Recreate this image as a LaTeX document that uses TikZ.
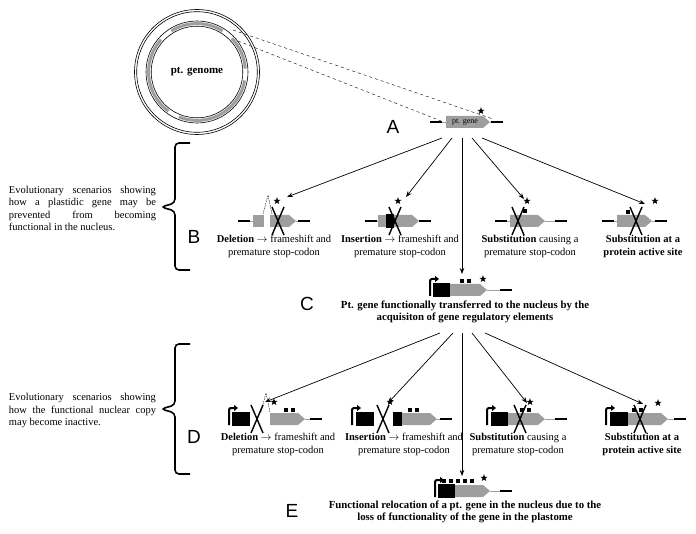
\documentclass[tikz,border=0pt]{standalone}
\usepackage{fontspec}
\setmainfont{Liberation Serif}
\newfontfamily\letterfont{Liberation Sans}
\usetikzlibrary{arrows.meta, positioning}
\definecolor{genegray}{gray}{0.62}

% gene pieces (x in pt, y grows downwards)
\newcommand{\genebody}[3]{\fill[genegray] (#1,#3-6) -- (#2-7,#3-6) -- (#2,#3) -- (#2-7,#3+6) -- (#1,#3+6) -- cycle;}
\newcommand{\geneflankL}[3]{\draw[genegray, thin] (#1,#3) -- (#2,#3); \draw[line width=1.6pt] (#1,#3) -- (#1+12,#3);}
\newcommand{\geneflankR}[3]{\draw[genegray, thin] (#1,#3) -- (#2,#3); \draw[line width=1.6pt] (#2-12,#3) -- (#2,#3);}
\newcommand{\regbox}[3]{\fill (#1,#3-7) rectangle (#2,#3+7);}
\newcommand{\promo}[2]{\draw[line width=2pt, rounded corners=2pt, -{Triangle[length=4pt,width=6pt]}] (#1,#2+6) -- (#1,#2-11) -- (#1+9,#2-11);}
\newcommand{\genecross}[2]{\draw[line width=1.4pt] (#1-6,#2-14) -- (#1+6,#2+14) (#1+6,#2-14) -- (#1-6,#2+14);}
\newcommand{\sqmark}[2]{\fill (#1-2.2,#2-2.2) rectangle (#1+2.2,#2+2.2);}
\newcommand{\genestar}[2]{\fill (#1,#2) +(-90:3.8) \foreach \k in {1,...,9}{-- +(-90+36*\k:{3.8-2.3*mod(\k,2)})} -- cycle;}
\newcommand{\delpeak}[2]{\draw[thin, dash pattern=on 1.5pt off 1pt] (#1-5,#2-7) -- (#1,#2-26) -- (#1+4,#2-7);}

\begin{document}
\begin{tikzpicture}[
  x=1pt, y=-1pt,
  lbl/.style={align=center, inner sep=0pt, font=\fontsize{10.5}{13}\selectfont},
  title/.style={align=center, inner sep=0pt, font=\bfseries\fontsize{10.8}{12.5}\selectfont},
  side/.style={text width=147pt, align=justify, inner sep=0pt, font=\fontsize{10.5}{12.5}\selectfont},
  letter/.style={inner sep=0pt, font=\letterfont\fontsize{19}{19}\selectfont},
  arr/.style={-{Stealth[length=6pt,width=4.5pt]}, line width=0.7pt},
  brace/.style={line width=1.6pt, rounded corners=4pt}
]
\useasboundingbox (0,0) rectangle (696,534);

% plastid genome
\node[font=\bfseries\fontsize{11}{11}\selectfont] (genome) at (197,72) {pt. genome};
\draw[line width=0.6pt] (genome.center) circle[radius=62.5];
\draw[line width=0.6pt] (genome.center) circle[radius=60.3];
\draw[line width=0.6pt] (genome.center) circle[radius=51];
\draw[line width=0.6pt] (genome.center) circle[radius=45.8];
\draw[genegray, line width=3pt] (genome.center) ++(10:48.4) arc[start angle=10, end angle=112, radius=48.4];
\draw[genegray, line width=3pt] (genome.center) ++(126:48.4) arc[start angle=126, end angle=222, radius=48.4];
\draw[genegray, line width=3pt] (genome.center) ++(238:48.4) arc[start angle=238, end angle=302, radius=48.4];
\draw[genegray, line width=3pt] (genome.center) ++(316:48.4) arc[start angle=316, end angle=356, radius=48.4];

\coordinate (wedgehi) at (233,30);
\coordinate (wedgelo) at (238,41);
\coordinate (geneAL) at (441,121);
\coordinate (geneAR) at (493,119);
\draw[thin, dashed] (wedgehi) -- (geneAR);
\draw[thin, dashed] (wedgelo) -- (geneAL);

% A
\geneflankL{430}{446}{122}
\genebody{446}{490}{122}
\geneflankR{490}{503}{122}
\node[font=\fontsize{8}{8}\selectfont, inner sep=0pt] (ptgene) at (465,122) {pt. gene};
\genestar{481}{111}
\node[letter] (labA) at (393,127) {A};

% B row
\geneflankL{238}{253}{221}
\fill[genegray] (253,215) rectangle (264,227);
\delpeak{268}{221}
\genebody{270}{296}{221}
\geneflankR{296}{310}{221}
\genecross{278}{221}
\genestar{277}{201}

\geneflankL{365}{378}{221}
\fill[genegray] (378,215) rectangle (386,227);
\regbox{386}{394}{221}
\genebody{394}{419}{221}
\geneflankR{419}{431}{221}
\genecross{395}{221}
\genestar{398}{201}

\geneflankL{495}{510}{221}
\genebody{510}{545}{221}
\geneflankR{545}{567}{221}
\genecross{518}{221}
\sqmark{525}{211}
\genestar{527}{201}

\geneflankL{602}{617}{221}
\genebody{617}{652}{221}
\geneflankR{652}{667}{221}
\genecross{636}{221}
\sqmark{628}{212}
\genestar{655}{201}

\node[lbl] (delB) at (274,246.5) {\textbf{Deletion} $\rightarrow$ frameshift and\\premature stop-codon};
\node[lbl] (insB) at (400,246.5) {\textbf{Insertion} $\rightarrow$ frameshift and\\premature stop-codon};
\node[lbl] (subB) at (530,246.5) {\textbf{Substitution} causing a\\premature stop-codon};
\node[lbl, font=\bfseries\fontsize{10.5}{13}\selectfont] (actB) at (643,246.5) {Substitution at a\\protein active site};
\node[letter] (labB) at (194,237) {B};

\draw[brace] (190,143) -- (175,143) -- (175,203) -- (161,207) -- (175,211) -- (175,270) -- (190,270);
\node[side] (sideB) at (82.5,208.5) {Evolutionary scenarios showing\linebreak how a plastidic gene may be\linebreak prevented from becoming\linebreak functional in the nucleus.};

\coordinate (fromA1) at (442,138);
\coordinate (fromA2) at (452,138);
\coordinate (fromA3) at (462,138);
\coordinate (fromA4) at (472,138);
\coordinate (fromA5) at (482,138);
\coordinate (toDelB) at (287,197);
\coordinate (toInsB) at (406,197);
\coordinate (toC) at (462,274);
\coordinate (toSubB) at (524,199);
\coordinate (toActB) at (645,204);
\draw[arr] (fromA1) -- (toDelB);
\draw[arr] (fromA2) -- (toInsB);
\draw[arr] (fromA3) -- (toC);
\draw[arr] (fromA4) -- (toSubB);
\draw[arr] (fromA5) -- (toActB);

% C
\promo{430}{290}
\regbox{433}{450}{290}
\genebody{450}{487}{290}
\geneflankR{487}{512}{290}
\sqmark{462}{281}
\sqmark{469}{281}
\genestar{483}{279}
\node[title] (textC) at (465,312) {Pt. gene functionally transferred to the nucleus by the\\acquisiton of gene regulatory elements};
\node[letter] (labC) at (307,304) {C};

% D row
\promo{229}{419}
\regbox{232}{250}{419}
\delpeak{266}{419}
\genebody{270}{305}{419}
\geneflankR{305}{322}{419}
\sqmark{286}{410}
\sqmark{293}{410}
\genecross{257}{419}
\genestar{274}{402}

\promo{352}{419}
\regbox{356}{374}{419}
\regbox{393}{402}{419}
\genebody{402}{437}{419}
\geneflankR{437}{452}{419}
\sqmark{410}{410}
\sqmark{417}{410}
\genecross{383}{419}
\genestar{390}{402}

\promo{487}{419}
\regbox{491}{508}{419}
\genebody{508}{545}{419}
\geneflankR{545}{567}{419}
\sqmark{522}{410}
\sqmark{529}{410}
\genecross{520}{419}
\genestar{530}{402}

\promo{606}{419}
\regbox{610}{628}{419}
\genebody{628}{668}{419}
\geneflankR{668}{686}{419}
\sqmark{634}{410}
\sqmark{641}{410}
\genecross{640}{419}
\genestar{658}{403}

\node[lbl] (delD) at (278,444) {\textbf{Deletion} $\rightarrow$ frameshift and\\premature stop-codon};
\node[lbl] (insD) at (404,444) {\textbf{Insertion} $\rightarrow$ frameshift and\\premature stop-codon};
\node[lbl] (subD) at (518,444) {\textbf{Substitution} causing a\\premature stop-codon};
\node[lbl, font=\bfseries\fontsize{10.5}{13}\selectfont] (actD) at (642,444) {Substitution at a\\protein active site};
\node[letter] (labD) at (194,437) {D};

\draw[brace] (190,344) -- (175,344) -- (175,405) -- (161,409) -- (175,413) -- (175,474) -- (190,474);
\node[side] (sideD) at (82.5,410.5) {Evolutionary scenarios showing\linebreak how the functional nuclear copy\linebreak may become inactive.};

\coordinate (fromC1) at (440,333);
\coordinate (fromC2) at (453,333);
\coordinate (fromC3) at (462,333);
\coordinate (fromC4) at (472,333);
\coordinate (fromC5) at (485,333);
\coordinate (toDelD) at (265,402);
\coordinate (toInsD) at (388,403);
\coordinate (toE) at (462,476);
\coordinate (toSubD) at (527,403);
\coordinate (toActD) at (643,404);
\draw[arr] (fromC1) -- (toDelD);
\draw[arr] (fromC2) -- (toInsD);
\draw[arr] (fromC3) -- (toE);
\draw[arr] (fromC4) -- (toSubD);
\draw[arr] (fromC5) -- (toActD);

% E
\promo{435}{491}
\regbox{438}{455}{491}
\genebody{455}{490}{491}
\geneflankR{490}{512}{491}
\foreach \sx in {444,451,458,465,472} {\sqmark{\sx}{481}}
\genestar{484}{478}
\node[title] (textE) at (465,512) {Functional relocation of a pt. gene in the nucleus due to the\\loss of functionality of the gene in the plastome};
\node[letter] (labE) at (292,511) {E};
\end{tikzpicture}
\end{document}
